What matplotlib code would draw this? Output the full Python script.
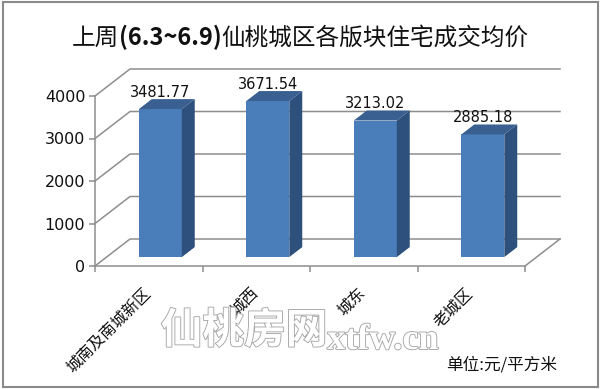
import matplotlib
matplotlib.use("Agg")
import matplotlib.pyplot as plt
import matplotlib.patheffects as pe
from matplotlib.patches import Polygon, Rectangle

CJK = ["Noto Sans CJK SC", "DejaVu Sans"]

# === DANE ===
categories = ["城南及南城新区", "城西", "城东", "老城区"]
prices = [3481.77, 3671.54, 3213.02, 2885.18]
yticks = [0, 1000, 2000, 3000, 4000]
title_parts = ["上周", "(6.3~6.9)", "仙桃城区各版块住宅成交均价"]
title_weights = ["normal", "bold", "normal"]
unit_text = "单位:元/平方米"
watermark_cn = "仙桃房网"
watermark_en = "xtfw.cn"

W, H = 600, 389
fig = plt.figure(figsize=(6, 3.89), dpi=100)
ax = fig.add_axes([95 / W, 1 - 266 / H, 430 / W, 170 / H])
ax.set_xlim(0, len(categories))
ax.set_ylim(0, 4000)

# glebokosc "3D" w jednostkach danych
DX = 35 / (430 / len(categories))
DY = 27 / (170 / 4000)


def proj(x, y, z):
    return (x + z * DX, y + z * DY)


grid_c = "#8e8e8e"
n = len(categories)

# === SCIANY: lewa + tylna ===
for v in yticks:
    p0, p1, p2 = proj(0, v, 0), proj(0, v, 1), proj(n, v, 1)
    ax.plot([p0[0], p1[0], p2[0]], [p0[1], p1[1], p2[1]],
            color=grid_c, lw=1.1, clip_on=False, zorder=1)
p0, p1 = proj(n, 0, 0), proj(n, 0, 1)
ax.plot([p0[0], p1[0]], [p0[1], p1[1]], color=grid_c, lw=1.1, clip_on=False, zorder=1)

# === OSIE ===
for s in ["top", "right"]:
    ax.spines[s].set_visible(False)
for s in ["left", "bottom"]:
    ax.spines[s].set_color(grid_c)
    ax.spines[s].set_linewidth(1.1)
ax.set_yticks(yticks)
ax.set_xticks(range(n + 1))
ax.set_xticklabels([])
ax.tick_params(axis="both", direction="out", length=4, color=grid_c, width=1.1)
ax.tick_params(axis="y", pad=3, labelsize=11.5, labelcolor="#111111")
ax.patch.set_visible(False)

# === SLUPKI 3D ===
front, side, top = "#4a7ebb", "#2e507c", "#3a6092"
w, zf, zb = 0.4, 0.33, 0.70
xs = [i + 0.5 for i in range(n)]
ax.bar([x + zf * DX for x in xs], prices, width=w, bottom=zf * DY,
       color=front, zorder=3, clip_on=False)
for x, v in zip(xs, prices):
    a, b = x - w / 2, x + w / 2
    ax.add_patch(Polygon([proj(a, v, zf), proj(b, v, zf), proj(b, v, zb), proj(a, v, zb)],
                         closed=True, fc=top, ec="none", zorder=3, clip_on=False))
    ax.add_patch(Polygon([proj(b, 0, zf), proj(b, 0, zb), proj(b, v, zb), proj(b, v, zf)],
                         closed=True, fc=side, ec="none", zorder=3, clip_on=False))
    lx, ly = x + zf * DX, v + zb * DY
    ax.annotate(f"{v:.2f}", (lx, ly), xytext=(0, 1.5), textcoords="offset points",
                ha="center", va="baseline", fontsize=10.5, color="#111111", zorder=5,
                annotation_clip=False)

# === PODPISY KATEGORII ===
for x, lab in zip(xs, categories):
    ax.text(x - 0.005, -0.145, lab, transform=ax.get_xaxis_transform(), rotation=45,
            rotation_mode="anchor", ha="right", va="center", fontsize=11.5,
            family=CJK, color="#111111", zorder=6)

# === ZNAK WODNY ===
stroke = [pe.withStroke(linewidth=1.3, foreground="#a6a6a6")]
fig.text(244 / W, 1 - 331 / H, watermark_cn, fontsize=30, weight="bold", family=CJK,
         color="white", ha="center", va="center", path_effects=stroke, zorder=0)
fig.text(383 / W, 1 - 349 / H, watermark_en, fontsize=26, weight="bold",
         family="Liberation Serif", color="white", ha="center", va="baseline",
         path_effects=stroke, zorder=0)

# === JEDNOSTKA ===
fig.text(557 / W, 1 - 365 / H, unit_text, fontsize=12, family=CJK, color="#111111",
         ha="right", va="center")

# === TYTUL ===
r = fig.canvas.get_renderer()
texts = [fig.text(0, 1 - 45 / H, p, fontsize=17, family=CJK, weight=wt, va="baseline",
                  color="#111111") for p, wt in zip(title_parts, title_weights)]
widths = [t.get_window_extent(r).width for t in texts]
x = (W - sum(widths)) / 2
for t, wd in zip(texts, widths):
    t.set_x(x / W)
    x += wd

# === RAMKA ===
fig.add_artist(Rectangle((3 / W, 2 / H), 595 / W, 385 / H, transform=fig.transFigure,
                         fill=False, ec="#8a8a8a", lw=1.5))

fig.savefig("out.png", dpi=100)
